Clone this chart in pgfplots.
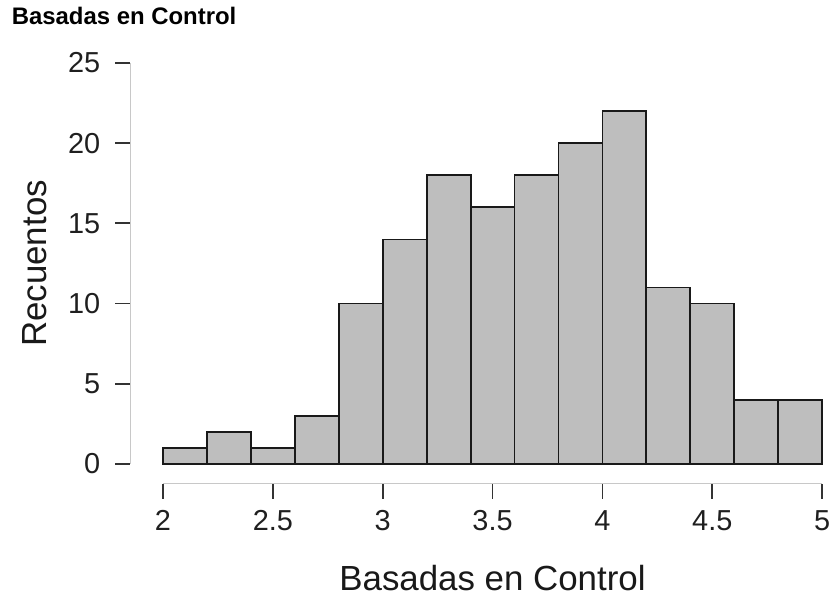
\documentclass[border=0pt]{standalone}
\usepackage{fontspec}
\setmainfont{Liberation Sans}
\usepackage{pgfplots}
\pgfplotsset{compat=1.18}
\definecolor{barfill}{RGB}{190,190,190}
\definecolor{axgray}{RGB}{200,200,200}
\begin{document}
\begin{tikzpicture}
\useasboundingbox (-130.5bp,-116.5bp) rectangle (707.5bp,483.5bp);
\begin{axis}[
  anchor=south west, at={(0,0)},
  x=219.7bp, y=16.04bp,
  xmin=1.852, xmax=5, ymin=-1.216, ymax=25,
  axis x line*=bottom, axis y line*=left,
  axis line style={draw=none},
  clip=false,
  tick align=outside,
  major tick length=15bp,
  tick style={line width=1.8bp, color=black!80},
  xtick={2,2.5,3,3.5,4,4.5,5},
  ytick={0,5,10,15,20,25},
  minor tick num=0,
  /pgf/number format/assume math mode=true,
  tick label style={font=\fontsize{29}{29}\selectfont, text=black!88},
  xticklabel style={inner sep=0pt, yshift=-12bp},
  yticklabel style={inner sep=0pt, xshift=-15bp},
  xlabel={Basadas en Control},
  ylabel={Recuentos},
  xlabel style={font=\fontsize{35}{35}\selectfont, text=black!90, at={(axis description cs:0.5234,-0.25327)}, anchor=base},
  ylabel style={font=\fontsize{35}{35}\selectfont, text=black!90, at={(axis description cs:-0.12074,0.5232)}, anchor=base},
]
\draw[axgray, line width=1.2bp] (axis cs:2,-1.216) -- (axis cs:5,-1.216);
\draw[axgray, line width=1.2bp] (axis cs:1.852,0) -- (axis cs:1.852,25);
\addplot[ybar interval, fill=barfill, draw=black!90, line width=1.8bp] coordinates {
(2.0,1) (2.2,2) (2.4,1) (2.6,3) (2.8,10) (3.0,14) (3.2,18) (3.4,16)
(3.6,18) (3.8,20) (4.0,22) (4.2,11) (4.4,10) (4.6,4) (4.8,4) (5.0,4)
};
\node[anchor=base west, inner sep=0pt, font=\bfseries\fontsize{24}{24}\selectfont] at (axis description cs:-0.1719,1.0904) {Basadas en Control};
\end{axis}
\end{tikzpicture}
\end{document}
